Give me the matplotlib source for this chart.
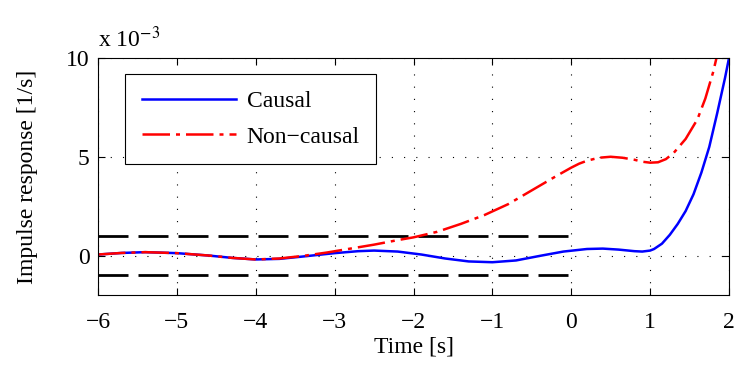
import matplotlib
matplotlib.use('Agg')
import matplotlib.pyplot as plt

plt.rcParams['font.family'] = ['Liberation Serif', 'DejaVu Serif']
plt.rcParams['mathtext.fontset'] = 'stix'

# values in units of 1e-3 [1/s]
t_causal = [-6.0, -5.7, -5.4, -5.0, -4.6, -4.3, -4.0, -3.7, -3.4, -3.0, -2.7, -2.5,
            -2.2, -1.9, -1.6, -1.3, -1.0, -0.7, -0.4, -0.1, 0.2, 0.4, 0.6, 0.8,
            0.9, 1.0, 1.05, 1.15, 1.25, 1.35, 1.45, 1.55, 1.65, 1.75, 1.85, 1.95, 2.0]
h_causal = [0.05, 0.13, 0.17, 0.12, 0.0, -0.12, -0.2, -0.17, -0.05, 0.12, 0.22, 0.25,
            0.2, 0.05, -0.15, -0.3, -0.34, -0.25, -0.02, 0.2, 0.33, 0.35, 0.3, 0.22,
            0.2, 0.25, 0.33, 0.6, 1.05, 1.6, 2.25, 3.1, 4.2, 5.5, 7.2, 9.0, 10.0]

t_noncausal = [-6.0, -5.7, -5.4, -5.0, -4.6, -4.3, -4.0, -3.7, -3.4, -3.1, -2.8, -2.5,
               -2.2, -2.0, -1.7, -1.4, -1.1, -0.8, -0.5, -0.2, 0.0, 0.1, 0.2, 0.35,
               0.5, 0.65, 0.8, 0.9, 1.0, 1.1, 1.2, 1.3, 1.45, 1.6, 1.7, 1.8, 1.9]
h_noncausal = [0.05, 0.13, 0.17, 0.12, 0.0, -0.12, -0.2, -0.15, -0.02, 0.15, 0.35, 0.55,
               0.78, 0.92, 1.2, 1.6, 2.05, 2.6, 3.3, 4.0, 4.45, 4.65, 4.8, 4.95,
               5.0, 4.95, 4.85, 4.75, 4.7, 4.72, 4.88, 5.2, 5.9, 6.9, 7.95, 9.3, 11.0]

bound_t = [-6, 0]
bound = 1.0

fs = 17

fig = plt.figure(figsize=(7.47, 3.69), dpi=100)
ax = fig.add_axes([0.1312, 0.2005, 0.8447, 0.6423])

ax.plot(bound_t, [bound, bound], color='black', lw=2, dashes=(10.8, 3.6))
ax.plot(bound_t, [-bound, -bound], color='black', lw=2, dashes=(10.8, 3.6))
l1, = ax.plot(t_causal, h_causal, color='blue', lw=1.8, label='Causal')
l2, = ax.plot(t_noncausal, h_noncausal, color='red', lw=1.8,
              dashes=(11, 2.4, 1.6, 2.4), label='Non\u2212causal')

ax.set_xlim(-6, 2)
ax.set_ylim(-2, 10)
ax.set_xticks(range(-6, 3))
ax.set_yticks([0, 5, 10])
ax.grid(True, color='black', linestyle=(0, (1, 10)), linewidth=0.8)
ax.tick_params(direction='in', top=True, right=True, labelsize=fs, length=5, pad=6)
ax.tick_params(axis='x', pad=12)
for s in ax.spines.values():
    s.set_linewidth(0.8)

ax.set_xlabel('Time [s]', fontsize=fs, labelpad=3)
ax.set_ylabel('Impulse response [1/s]', fontsize=fs, labelpad=20)
ax.text(0.0, 1.025, 'x 10$^{-3}$', transform=ax.transAxes, fontsize=fs,
        ha='left', va='bottom')

leg = ax.legend(handles=[l1, l2], loc='upper left', bbox_to_anchor=(0.043, 0.933),
                borderaxespad=0,
                fontsize=fs, fancybox=False, framealpha=1, edgecolor='black',
                handlelength=4.0, borderpad=0.7, labelspacing=0.6, handletextpad=0.45)
leg.get_frame().set_linewidth(0.8)

fig.savefig('out.png', dpi=100)
